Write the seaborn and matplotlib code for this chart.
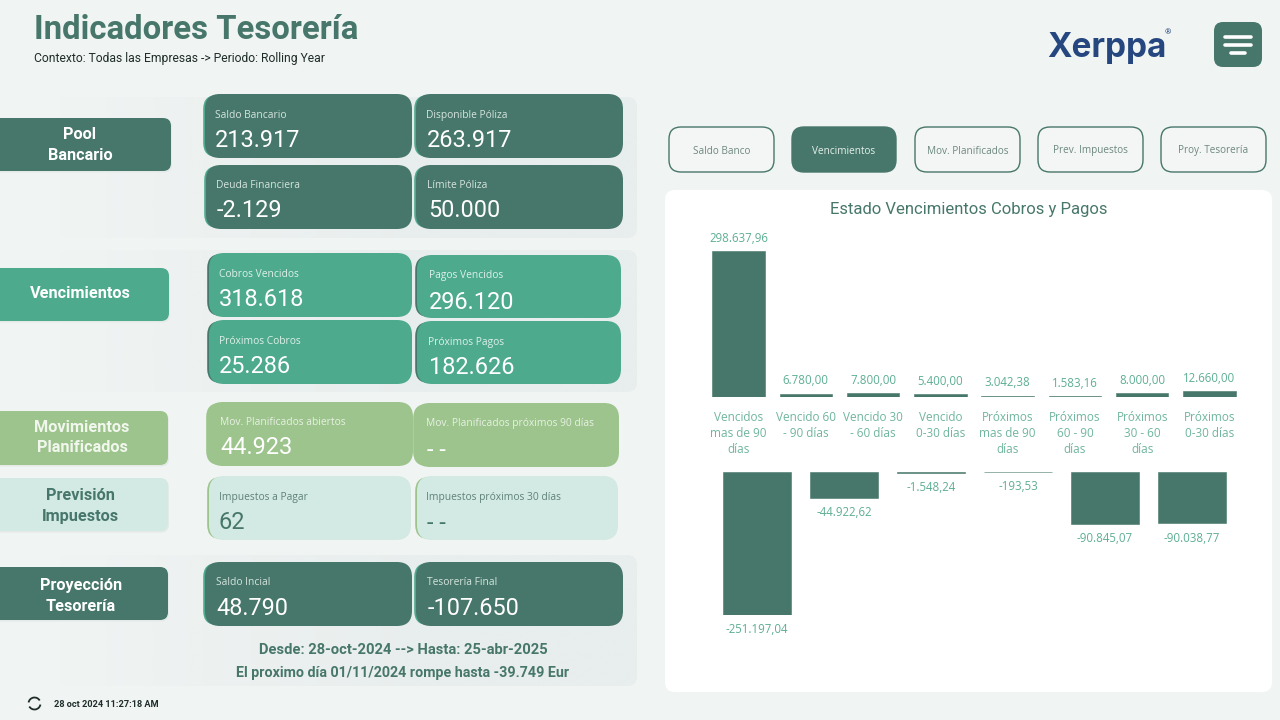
import numpy as np
import matplotlib
matplotlib.use("Agg")
import matplotlib.pyplot as plt
from matplotlib.patches import FancyBboxPatch, Arc
import seaborn as sns

# ---------- data ----------
top_categories = ["Vencidos\nmas de 90\ndías", "Vencido 60\n- 90 días", "Vencido 30\n- 60 días", "Vencido\n0-30 días",
                  "Próximos\nmas de 90\ndías", "Próximos\n60 - 90\ndías", "Próximos\n30 - 60\ndías", "Próximos\n0-30 días"]
top_values = [298637.96, 6780.00, 7800.00, 5400.00, 3042.38, 1583.16, 8000.00, 12660.00]
bottom_categories = ["p1", "p2", "p3", "p4", "p5", "p6"]
bottom_values = [-251197.04, -44922.62, -1548.24, -193.53, -90845.07, -90038.77]
chart_title = "Estado Vencimientos Cobros y Pagos"
buttons = ["Saldo Banco", "Vencimientos", "Mov. Planificados", "Prev. Impuestos", "Proy. Tesorería"]
kpi_titles = ["Saldo Bancario", "Disponible Póliza", "Deuda Financiera", "Límite Póliza",
              "Cobros Vencidos", "Pagos Vencidos", "Próximos Cobros", "Próximos Pagos",
              "Mov. Planificados abiertos", "Mov. Planificados próximos 90 días",
              "Impuestos a Pagar", "Impuestos próximos 30 días",
              "Saldo Incial", "Tesorería Final"]
kpi_values = ["213.917", "263.917", "-2.129", "50.000",
              "318.618", "296.120", "25.286", "182.626",
              "44.923", "- -", "62", "- -",
              "48.790", "-107.650"]
section_names = ["Pool\nBancario", "Vencimientos", "Movimientos\nPlanificados", "Previsión\nImpuestos", "Proyección\nTesorería"]

# ---------- style ----------
DARK, MID, LEAF, PALE = "#47776A", "#4EAA8D", "#9CC48C", "#D3E9E3"
BG = "#F0F4F3"
DIN = "Roboto"
UI = "Open Sans"
sns.set_theme(style="white")
plt.rcParams["font.family"] = [DIN, "DejaVu Sans"]

fig = plt.figure(figsize=(12.8, 7.2), dpi=100, facecolor=BG)
bg = fig.add_axes([0, 0, 1, 1])
bg.set_xlim(0, 1280); bg.set_ylim(720, 0); bg.axis("off")
renderer = fig.canvas.get_renderer()


def px(p):
    return p * 0.72


def rbox(x0, y0, x1, y1, r=14, fc=DARK, ec="none", lw=0, z=2, **kw):
    p = FancyBboxPatch((x0, y0), x1 - x0, y1 - y0, boxstyle=f"round,pad=0,rounding_size={r}",
                       fc=fc, ec=ec, lw=lw, zorder=z, **kw)
    bg.add_patch(p)
    return p


def txt(x, y, s, size, color="white", weight="normal", ha="left", family=DIN, width=None, z=5, ls=1.2):
    t = bg.text(x, y + 1.5, s, fontsize=px(size), color=color, fontweight=weight, ha=ha, va="center",
                family=[family, "DejaVu Sans"], zorder=z, linespacing=ls)
    if width:
        w = t.get_window_extent(renderer).width
        t.set_fontsize(t.get_fontsize() * width / w)
    return t


def panel(x0, y0, x1, y1):
    grad = np.zeros((2, 256, 4))
    grad[..., :3] = matplotlib.colors.to_rgb("#E8EDED")
    grad[..., 3] = np.clip(np.linspace(-0.2, 1.5, 256), 0, 1)
    im = bg.imshow(grad, extent=(x0, x1, y1, y0), aspect="auto", zorder=1, interpolation="bilinear")
    clip = FancyBboxPatch((x0, y0), x1 - x0, y1 - y0, boxstyle="round,pad=0,rounding_size=10",
                          fc="none", ec="none", transform=bg.transData)
    bg.add_patch(clip)
    im.set_clip_path(clip)
    bg.set_xlim(0, 1280); bg.set_ylim(720, 0)


panel(-20, 97, 637, 238)
panel(-20, 250, 637, 392)
panel(-20, 555, 637, 686)

# section labels
label_boxes = [(118, 171, 171, DARK, "white"), (268, 321, 169, MID, "white"), (411, 465, 168, LEAF, "#F2F7EE"),
               (478, 531, 168, PALE, DARK), (567, 620, 168, DARK, "white")]
label_x = [80, 80, 82, 80, 81]
label_dy = [-1, -3, -2, 0, 1]
for name, (y0, y1, x1, fc, col), lx, dy in zip(section_names, label_boxes, label_x, label_dy):
    rbox(-12, y0 + 1.5, x1 + 1, y1 + 1.5, r=8, fc="#E4EAE8", z=1.5)
    rbox(-12, y0, x1, y1, r=8, fc=fc)
    txt(lx, (y0 + y1) / 2 + dy, name, 16.2, color=col, weight="bold", ha="center", ls=1.42)

# KPI cards: (x0, y0, x1, y1, fill, accent, title colour, value colour, title x, title y, value x, value y)
cards = [
    (205, 94, 412, 158, DARK, MID, "#D5E4DF", "white", 215, 114, 215, 139),
    (416, 94, 623, 158, DARK, MID, "#D5E4DF", "white", 426, 114, 427, 139),
    (206, 165, 412, 229, DARK, MID, "#D5E4DF", "white", 216, 184, 217, 209),
    (416, 165, 623, 229, DARK, MID, "#D5E4DF", "white", 427, 184, 428, 209),
    (209, 253, 412, 317, MID, DARK, "#DDF0E9", "white", 219, 273, 219, 298),
    (417, 255, 621, 318, MID, DARK, "#DDF0E9", "white", 429, 274, 429, 301),
    (209, 320, 412, 384, MID, DARK, "#DDF0E9", "white", 219, 340, 219, 365),
    (417, 321, 621, 384, MID, DARK, "#DDF0E9", "white", 428, 341, 429, 366),
    (208, 402, 413, 466, LEAF, LEAF, "#E8F1E3", "white", 220, 421, 220, 446),
    (415, 403, 619, 467, LEAF, LEAF, "#E8F1E3", "white", 426, 422, 427, 449),
    (209, 476, 411, 540, PALE, LEAF, "#5F8277", DARK, 219, 496, 219, 521),
    (417, 476, 618, 540, PALE, LEAF, "#5F8277", DARK, 426, 496, 427, 522),
    (205, 562, 412, 626, DARK, MID, "#D5E4DF", "white", 216, 581, 216, 607),
    (416, 562, 623, 626, DARK, MID, "#D5E4DF", "white", 427, 581, 428, 607),
]
for c, title, value in zip(cards, kpi_titles, kpi_values):
    x0, y0, x1, y1, fc, ac, tc, vc, tx, ty, vx, vy = c
    rbox(x0 - 1.8, y0 + 1, x0 + 30, y1 - 1, r=14, fc=ac, z=2)
    rbox(x0, y0, x1, y1, r=15, fc=fc, z=3)
    txt(tx, ty, title, 10.2, color=tc, family=UI, ls=1)
    txt(vx, vy, value, 23.5, color=vc)

# header
txt(34, 28.5, "Indicadores Tesorería", 36, color=DARK, weight="bold", width=324)
txt(34, 57, "Contexto: Todas las Empresas -> Periodo: Rolling Year", 12, color="#1F2D2A", width=291)

# logo
txt(1047, 46.5, "Xerppa", 38, color="#25467F", weight="bold", family="Inter", width=119)
txt(1165, 31, "®", 8, color="#25467F")

# menu button
rbox(1214, 22, 1262, 67, r=9, fc=DARK)
for y, a, b in [(37, 1225, 1251), (45, 1225, 1251), (53, 1231, 1245)]:
    bg.plot([a, b], [y, y], color="white", lw=2.6, solid_capstyle="round", zorder=6)

# tab buttons
btn_x = [(669, 774), (792, 896), (915, 1020), (1038, 1143), (1161, 1266)]
for i, (b, (x0, x1)) in enumerate(zip(buttons, btn_x)):
    active = b == "Vencimientos"
    rbox(x0, 127, x1, 172, r=12, fc=DARK if active else "#F4F6F6", ec=DARK, lw=1)
    txt((x0 + x1) / 2, 149.5, b, 10, color="#E6F0EC" if active else "#6E8880", ha="center", family=UI)

# white panel
rbox(665, 190, 1272, 692, r=10, fc="white")
txt(969, 208, chart_title, 16.5, color=DARK, ha="center", width=277)

# footer text of projection
txt(403, 649, "Desde: 28-oct-2024 --> Hasta: 25-abr-2025", 15, color=DARK, weight="bold", ha="center", width=289)
txt(403, 671, "El proximo día 01/11/2024 rompe hasta -39.749 Eur", 15, color=DARK, weight="bold", ha="center", width=333)
txt(54, 703, "28 oct 2024 11:27:18 AM", 9, color="#1F2D2A", weight="bold", width=103)
bg.add_patch(Arc((34.5, 703.5), 12, 12, theta1=190, theta2=330, ec="#1F2D2A", lw=1.3, zorder=6))
bg.add_patch(Arc((34.5, 703.5), 12, 12, theta1=10, theta2=150, ec="#1F2D2A", lw=1.3, zorder=6))
bg.set_xlim(0, 1280); bg.set_ylim(720, 0)


# ---------- charts ----------
def chart_axes(x0, x1, ytop, ybottom):
    ax = fig.add_axes([x0 / 1280, 1 - ybottom / 720, (x1 - x0) / 1280, (ybottom - ytop) / 720])
    ax.patch.set_alpha(0)
    ax.set_zorder(5)
    return ax


def es(v):
    return f"{v:,.2f}".replace(",", "X").replace(".", ",").replace("X", ".")


VAL = "#5DAE94"
LBL = "#6FB59F"

step = (1209.5 - 738.5) / 7
ax1 = chart_axes(738.5 - step / 2, 1209.5 + step / 2, 251, 397)
sns.barplot(x=top_categories, y=top_values, color=DARK, saturation=1, width=52.5 / step, ax=ax1,
            edgecolor=DARK, linewidth=0.4)
ax1.set_ylim(0, max(top_values))
ax1.bar_label(ax1.containers[0], labels=[es(v) for v in top_values], padding=4.5, color=VAL,
              fontsize=8.3, family=UI)
ax1.tick_params(axis="x", length=0, pad=10, labelcolor=LBL, labelsize=8.5)
for t in ax1.get_xticklabels():
    t.set_family(UI); t.set_linespacing(1.3)
ax1.yaxis.set_visible(False)
ax1.set_ylabel("")
sns.despine(ax=ax1, left=True, bottom=True)

step2 = (1192 - 757) / 5
ax2 = chart_axes(757 - step2 / 2, 1192 + step2 / 2, 472, 615)
sns.barplot(x=bottom_categories, y=bottom_values, color=DARK, saturation=1, width=67.5 / step2, ax=ax2,
            edgecolor=DARK, linewidth=0.4)
ax2.set_ylim(min(bottom_values), 0)
ax2.bar_label(ax2.containers[0], labels=[es(v) for v in bottom_values], padding=6, color=VAL,
              fontsize=8.3, family=UI)
ax2.xaxis.set_visible(False)
ax2.yaxis.set_visible(False)
sns.despine(ax=ax2, left=True, bottom=True)

fig.savefig("out.png", dpi=100, facecolor=BG)
